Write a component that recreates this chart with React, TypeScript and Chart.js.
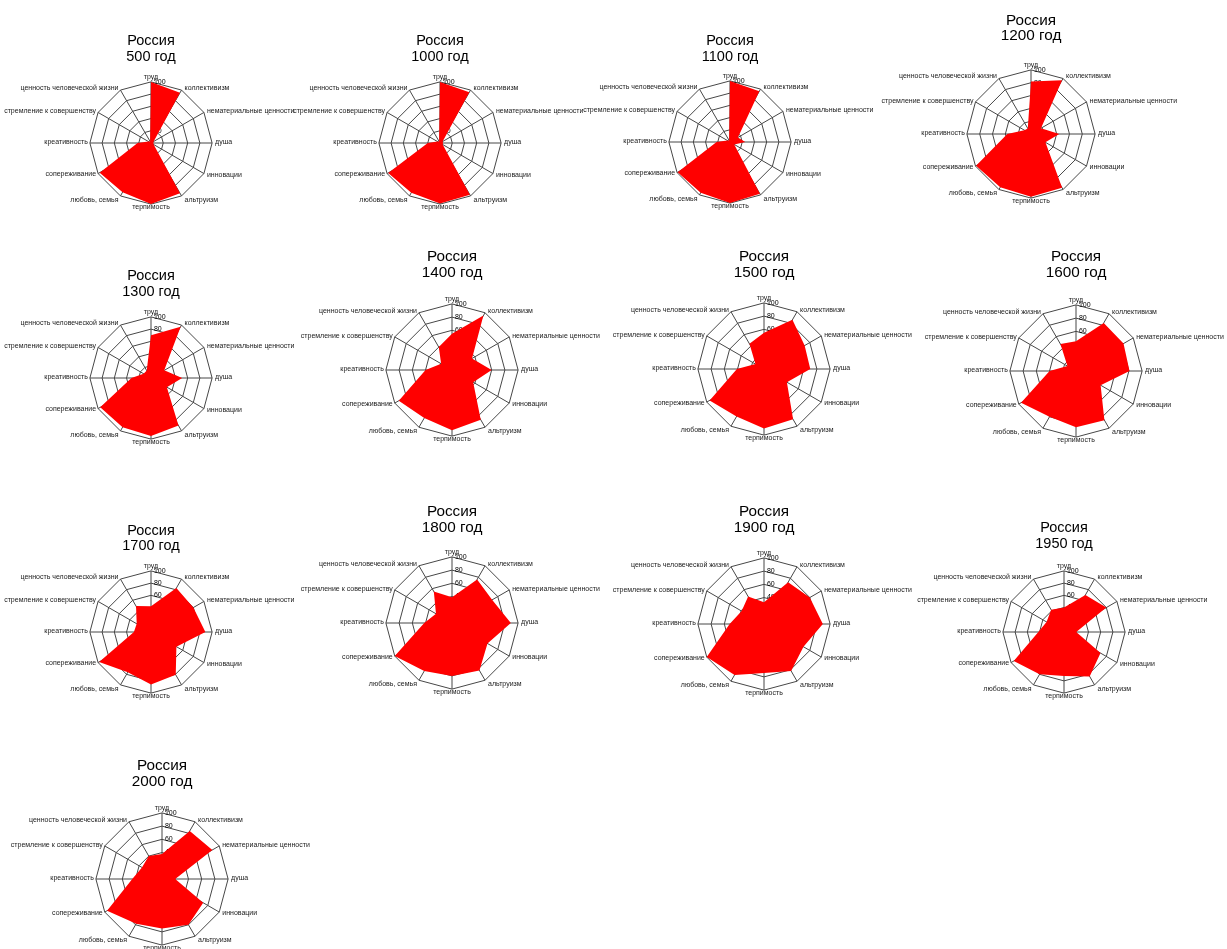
import React, { useEffect, useRef } from "react";
import { Chart, registerables } from "chart.js";

Chart.register(...registerables);

// ---------- data ----------
const AXES = [
  "труд",
  "коллективизм",
  "нематериальные ценности",
  "душа",
  "инновации",
  "альтруизм",
  "терпимость",
  "любовь, семья",
  "сопереживание",
  "креативность",
  "стремление к совершенству",
  "ценность человеческой жизни",
];
const COUNTRY = "Россия";
const YEARS = ["500 год", "1000 год", "1100 год", "1200 год", "1300 год", "1400 год", "1500 год", "1600 год", "1700 год", "1800 год", "1900 год", "1950 год", "2000 год"];
const TICK_MIN = 0;
const TICK_MAX = 100;
const TICK_STEP = 20;

const Y500 = [100, 95, 5, 4, 5, 95, 100, 93, 97, 22, 5, 3];
const Y1000 = [100, 96, 5, 5, 5, 98, 99, 94, 98, 20, 5, 3];
const Y1100 = [100, 96, 15, 25, 8, 98, 100, 96, 99, 22, 5, 3];
const Y1200 = [82, 97, 18, 44, 26, 97, 98, 96, 99, 37, 12, 10];
const Y1300 = [70, 97, 25, 51, 30, 90, 95, 93, 96, 32, 14, 14];
const Y1400 = [55, 95, 35, 60, 37, 87, 91, 84, 93, 40, 19, 40];
const Y1500 = [55, 86, 71, 70, 40, 88, 90, 83, 95, 41, 15, 44];
const Y1600 = [45, 84, 83, 81, 43, 86, 85, 80, 96, 40, 15, 47];
const Y1700 = [42, 83, 80, 89, 48, 81, 86, 76, 98, 28, 27, 49];
const Y1800 = [39, 76, 70, 89, 62, 83, 80, 84, 100, 42, 28, 55];
const Y1900 = [33, 73, 80, 89, 69, 82, 74, 89, 100, 52, 39, 48];
const Y1950 = [40, 70, 80, 20, 69, 84, 72, 80, 95, 42, 33, 42];
const Y2000 = [38, 84, 88, 20, 72, 80, 75, 78, 96, 45, 35, 40];

const SERIES = [Y500, Y1000, Y1100, Y1200, Y1300, Y1400, Y1500, Y1600, Y1700, Y1800, Y1900, Y1950, Y2000];

// ---------- layout (radar centre x/y, radius, first title line y, title size) ----------
const LAYOUT = [
  { xc: 151, yc: 144, r: 60, t1: 41, ts: 14.5 },
  { xc: 440, yc: 144, r: 60, t1: 41, ts: 14.5 },
  { xc: 730, yc: 143, r: 60, t1: 41, ts: 14.5 },
  { xc: 1031, yc: 135, r: 63, t1: 20.5, ts: 15.3 },
  { xc: 151, yc: 379, r: 60, t1: 276, ts: 14.5 },
  { xc: 452, yc: 371, r: 65, t1: 257, ts: 15.3 },
  { xc: 764, yc: 370, r: 65, t1: 257, ts: 15.3 },
  { xc: 1076, yc: 372, r: 65, t1: 257, ts: 15.3 },
  { xc: 151, yc: 633, r: 60, t1: 530.5, ts: 14.5 },
  { xc: 452, yc: 624, r: 65, t1: 512, ts: 15.3 },
  { xc: 764, yc: 625, r: 65, t1: 512, ts: 15.3 },
  { xc: 1064, yc: 633, r: 60, t1: 528, ts: 14.5 },
  { xc: 162, yc: 880, r: 65, t1: 766, ts: 15.3 },
];

// ---------- style ----------
const FONT = "'Liberation Sans', Arial, Helvetica, sans-serif";
const TITLE_LH = 15.5;
const LABEL_SIZE = 7;
const LABEL_LH = LABEL_SIZE * 1.2;
const LABEL_PAD = -1;
const TICK_SIZE = 7;
const CANVAS_W = 520;
const GRID = "#474747";
const FILL = "#ff0000";
// vertical offset of each point label's centre from its outer vertex (Excel-like placement)
const LABEL_DY = [-4.6, -2, -1, -1, 1.2, 3.7, 3, 3.9, 1, -0.5, -1, -2];
const LABEL_DX_RIGHT = 3;
const LABEL_DX_LEFT = -2;

function geometry(g: { xc: number; yc: number; r: number; t1: number }) {
  const yTop = g.t1 - TITLE_LH / 2;
  const y0 = Math.floor(yTop);
  const pt = yTop - y0;
  const A = Math.round(g.yc) - y0;
  const K = Math.round(g.r + LABEL_PAD + LABEL_LH + 4.5);
  const H = A + K;
  const titleH = A - K;
  const pb = titleH - 2 * TITLE_LH - pt;
  return { left: Math.round(g.xc) - CANVAS_W / 2, top: y0, H, pt, pb };
}

function tickText(v: number) {
  const s = String(v);
  return " ".repeat(s.length >= 3 ? 9 : 7) + s;
}

function placeLabels(scale: any) {
  const items = scale._pointLabelItems;
  if (!items) return;
  const n = items.length;
  items.forEach((it: any, i: number) => {
    const v = scale.getPointPosition(i, scale.drawingArea);
    const a = Math.round((i * 360) / n);
    const align = a === 0 || a === 180 ? "center" : a < 180 ? "left" : "right";
    const dx = align === "center" ? 0 : align === "left" ? LABEL_DX_RIGHT : LABEL_DX_LEFT;
    const w = it.right - it.left;
    it.x = v.x + dx;
    it.y = v.y + LABEL_DY[i] - LABEL_LH / 2;
    it.textAlign = align;
    it.left = align === "center" ? it.x - w / 2 : align === "left" ? it.x : it.x - w;
    it.right = it.left + w;
    it.top = it.y;
    it.bottom = it.y + LABEL_LH;
  });
}

function Radar({ idx }: { idx: number }) {
  const ref = useRef<HTMLCanvasElement | null>(null);
  const geo = geometry(LAYOUT[idx]);
  const ts = LAYOUT[idx].ts;
  useEffect(() => {
    if (!ref.current) return;
    const chart = new Chart(ref.current, {
      type: "radar",
      data: {
        labels: AXES,
        datasets: [
          {
            data: SERIES[idx],
            backgroundColor: FILL,
            borderColor: FILL,
            borderWidth: 0,
            pointRadius: 0,
            pointHoverRadius: 0,
            fill: "origin",
          },
        ],
      },
      options: {
        animation: false,
        responsive: false,
        devicePixelRatio: 1,
        events: [],
        layout: { padding: 0 },
        plugins: {
          legend: { display: false },
          tooltip: { enabled: false },
          title: {
            display: true,
            text: [COUNTRY, YEARS[idx]],
            color: "#000",
            font: { family: FONT, size: ts, weight: "normal", lineHeight: TITLE_LH / ts },
            padding: { top: geo.pt, bottom: geo.pb },
          },
        },
        scales: {
          r: {
            min: TICK_MIN,
            max: TICK_MAX,
            z: 1,
            afterFit: placeLabels,
            ticks: {
              stepSize: TICK_STEP,
              showLabelBackdrop: false,
              backdropPadding: 0,
              color: "#000",
              font: { family: FONT, size: TICK_SIZE },
              callback: (v: any) => tickText(v),
            },
            grid: { color: GRID, lineWidth: 1, circular: false },
            angleLines: { color: GRID, lineWidth: 1 },
            pointLabels: {
              color: "#1a1a1a",
              padding: LABEL_PAD,
              font: { family: FONT, size: LABEL_SIZE },
            },
          },
        },
      },
    } as any);
    return () => chart.destroy();
  }, [idx]);
  return (
    <canvas
      ref={ref}
      width={CANVAS_W}
      height={geo.H}
      style={{ position: "absolute", left: geo.left, top: geo.top, width: CANVAS_W, height: geo.H }}
    />
  );
}

export default function App() {
  return (
    <div
      style={{
        position: "absolute",
        left: 0,
        top: 0,
        width: 1227,
        height: 949,
        overflow: "hidden",
        background: "#fff",
      }}
    >
      {SERIES.map((_, i) => (
        <Radar key={i} idx={i} />
      ))}
    </div>
  );
}
